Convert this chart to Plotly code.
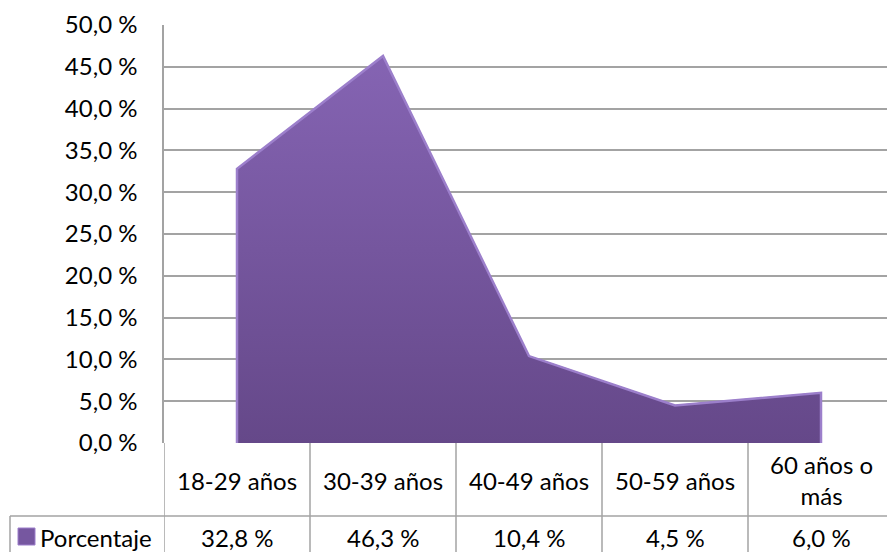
import plotly.graph_objects as go

# Age groups and their share of respondents (%)
categories = ["18-29 años", "30-39 años", "40-49 años", "50-59 años", "60 años o<br>más"]
values = [32.8, 46.3, 10.4, 4.5, 6.0]
value_labels = ["32,8 %", "46,3 %", "10,4 %", "4,5 %", "6,0 %"]
series_name = "Porcentaje"
y_ticks = [0, 5, 10, 15, 20, 25, 30, 35, 40, 45, 50]
y_tick_labels = ["0,0 %", "5,0 %", "10,0 %", "15,0 %", "20,0 %", "25,0 %",
                 "30,0 %", "35,0 %", "40,0 %", "45,0 %", "50,0 %"]

W, H = 887, 552
L, T, B = 164, 25, 109
PLOT_H = H - T - B
PLOT_W = W - L
FONT = "Lato"
FS = 24
GRID = "#A3A3A3"


def px_x(px):
    """Pixel column -> paper x."""
    return (px - L) / PLOT_W


def px_y(py):
    """Pixel row (from top) -> paper y."""
    return (H - B - py) / PLOT_H


xs = list(range(len(categories)))

fig = go.Figure()

# Filled area with a vertical purple gradient
fig.add_trace(go.Scatter(
    x=xs, y=values, mode="lines", fill="tozeroy",
    line=dict(color="#6A4E90", width=1),
    fillgradient=dict(type="vertical",
                      colorscale=[[0, "#654889"], [1, "#8564B3"]]),
    hoverinfo="skip", showlegend=False,
))
# Light bevel along the outline
fig.add_trace(go.Scatter(
    x=[xs[0]] + xs + [xs[-1]], y=[0] + values + [0], mode="lines",
    line=dict(color="#9C7FCB", width=2.5),
    hoverinfo="skip", showlegend=False,
))

BOTTOM = px_y(H + 20)

shapes = []
# Table grid: vertical separators between categories
for i in range(len(categories)):
    shapes.append(dict(type="line", xref="x", yref="paper",
                       x0=i - 0.5, x1=i - 0.5, y0=0, y1=BOTTOM,
                       line=dict(color=GRID, width=1.5)))
# Horizontal line between header row and value row
row_sep = px_y(516)
shapes.append(dict(type="line", xref="paper", yref="paper",
                   x0=px_x(10), x1=1.0, y0=row_sep, y1=row_sep,
                   line=dict(color=GRID, width=1.5)))
# Left border of the legend cell
shapes.append(dict(type="line", xref="paper", yref="paper",
                   x0=px_x(10), x1=px_x(10), y0=row_sep, y1=BOTTOM,
                   line=dict(color=GRID, width=1.5)))
# Legend key square
shapes.append(dict(type="rect", xref="paper", yref="paper",
                   x0=px_x(18), x1=px_x(35), y0=px_y(545), y1=px_y(528),
                   line=dict(color="#9C7FCB", width=1),
                   fillcolor="#7657A0"))

annotations = []
# Header row: category names
for i, c in enumerate(categories):
    annotations.append(dict(xref="x", yref="paper", x=i, y=px_y(480),
                            text=c, showarrow=False, xanchor="center", yanchor="middle",
                            font=dict(family=FONT, size=FS, color="#000")))
# Value row
for i, v in enumerate(value_labels):
    annotations.append(dict(xref="x", yref="paper", x=i, y=px_y(537),
                            text=v, showarrow=False, xanchor="center", yanchor="middle",
                            font=dict(family=FONT, size=FS, color="#000")))
annotations.append(dict(xref="paper", yref="paper", x=px_x(38), y=px_y(537),
                        text=series_name, showarrow=False, xanchor="left", yanchor="middle",
                        font=dict(family=FONT, size=FS, color="#000")))

# Cell width of 146 px, last column partly clipped by the right edge
x_max = -0.5 + PLOT_W / 146.0

fig.update_layout(
    width=W, height=H,
    margin=dict(l=L, r=0, t=T, b=B),
    paper_bgcolor="white", plot_bgcolor="white",
    shapes=shapes, annotations=annotations,
    xaxis=dict(range=[-0.5, x_max], showgrid=False, showticklabels=False,
               zeroline=False, showline=False, fixedrange=True),
    yaxis=dict(range=[0, 50], tickvals=y_ticks, ticktext=y_tick_labels,
               showgrid=True, gridcolor=GRID, gridwidth=1.5,
               zeroline=False, showline=True, linecolor=GRID, linewidth=1.5,
               ticks="", ticklabelstandoff=20,
               tickfont=dict(family=FONT, size=FS, color="#000")),
    showlegend=False,
)

fig.write_html("out.html")
